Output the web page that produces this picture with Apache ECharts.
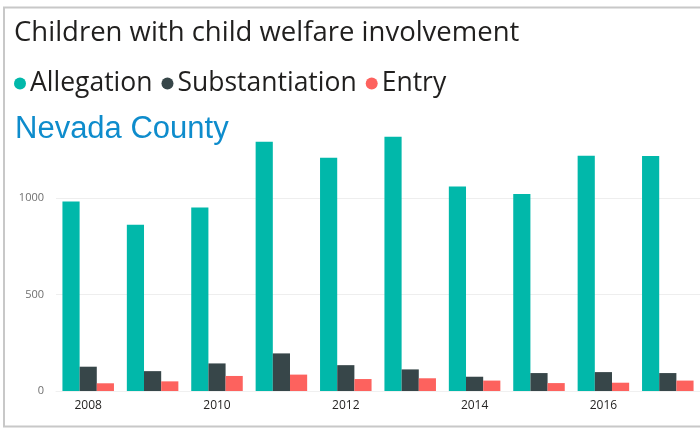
<!DOCTYPE html>
<html>
<head>
<meta charset="utf-8">
<script src="https://cdn.jsdelivr.net/npm/echarts@6/dist/echarts.min.js"></script>
<style>
html,body{margin:0;padding:0;background:#fff;}
#chart{width:700px;height:428px;}
</style>
</head>
<body>
<div id="chart"></div>
<script>
const years = ['2008','2009','2010','2011','2012','2013','2014','2015','2016','2017'];
const allegation = [982, 862, 951, 1293, 1210, 1318, 1060, 1022, 1220, 1219];
const substantiation = [126, 103, 143, 195, 134, 112, 74, 93, 98, 93];
const entry = [40, 50, 78, 85, 62, 66, 54, 41, 43, 54];
const yTicks = [0, 500, 1000];

const chart = echarts.init(document.getElementById('chart'));
const font = '"Open Sans", "Noto Sans", sans-serif';
chart.setOption({
  animation: false,
  backgroundColor: '#fff',
  title: [
    {text: 'Children with child welfare involvement', left: 9, top: 14,
     textStyle: {fontFamily: font, fontSize: 27.5, fontWeight: 'normal', color: '#201f1e'}},
    {text: 'Nevada County', left: 10, top: 109,
     textStyle: {fontFamily: '"Liberation Sans", Arial, sans-serif', fontSize: 31, fontWeight: 'normal', color: '#0e8ccc'}}
  ],
  legend: {
    left: 9, top: 65, icon: 'circle', itemWidth: 12, itemHeight: 12, itemGap: 9,
    textStyle: {fontFamily: font, fontSize: 26.5, color: '#201f1e', padding: [0,0,0,-1]},
    data: ['Allegation', 'Substantiation', 'Entry']
  },
  grid: {left: 56, top: 121, bottom: 37, width: 649},
  xAxis: {
    type: 'category', data: years,
    axisLine: {show: true, lineStyle: {color: '#f0f0f0'}},
    axisTick: {show: false},
    axisLabel: {interval: 1, color: '#252423', fontFamily: font, fontSize: 12, margin: 9}
  },
  yAxis: {
    type: 'value', min: 0, max: 1400, interval: 500,
    axisLine: {show: false}, axisTick: {show: false},
    splitLine: {showMaxLine: false, lineStyle: {color: '#eeeeee', width: 1}},
    axisLabel: {color: '#6f6f6f', fontFamily: font, fontSize: 11, margin: 12,
      formatter: v => yTicks.includes(v) ? String(v) : ''}
  },
  graphic: [{
    type: 'rect', shape: {x: 4, y: 7.5, width: 720, height: 419},
    style: {fill: 'none', stroke: '#c8c8c8', lineWidth: 2}, silent: true, z: 100
  }],
  series: [
    {name: 'Allegation', type: 'bar', data: allegation, itemStyle: {color: '#01B8AA'}, barGap: '0%', barCategoryGap: '20%'},
    {name: 'Substantiation', type: 'bar', data: substantiation, itemStyle: {color: '#374649'}},
    {name: 'Entry', type: 'bar', data: entry, itemStyle: {color: '#FD625E'}}
  ]
});
</script>
</body>
</html>
